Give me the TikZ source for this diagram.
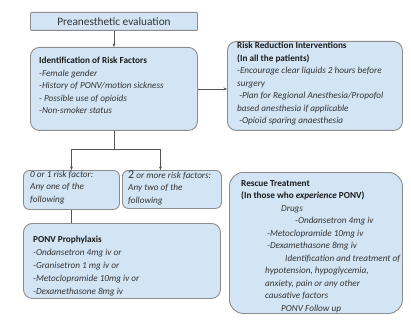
\documentclass[tikz,border=0pt]{standalone}
\usepackage{fontspec}
\setmainfont{Carlito}
\usetikzlibrary{arrows.meta}
\definecolor{boxfill}{HTML}{D3E5F5}
\definecolor{boxline}{HTML}{8C8C8C}
\definecolor{txtcol}{HTML}{333333}
\definecolor{headcol}{HTML}{1A1A1A}
\definecolor{linecol}{HTML}{555555}
\begin{document}
\begin{tikzpicture}[x=1pt,y=-1pt,
  box/.style={draw=boxline, fill=boxfill, line width=0.9pt, rounded corners=9pt, inner sep=0pt, anchor=north west},
  txt/.style={anchor=north west, align=left, inner sep=0pt, font=\fontsize{9.2}{12.5}\selectfont\itshape, text=txtcol},
  arr/.style={-{Stealth[length=3.5pt,width=3pt]}, draw=linecol, line width=0.7pt},
  ln/.style={draw=linecol, line width=0.7pt}]
\useasboundingbox (0,0) rectangle (411,320);
\newcommand{\hdtext}[1]{{\upshape\bfseries\color{headcol}#1}}
% boxes
\node[box, rounded corners=1pt, minimum width=167pt, minimum height=18pt,
      font=\fontsize{11.3}{13}\selectfont, text=txtcol] (pre) at (30,12) {Preanesthetic evaluation};
\node[box, minimum width=167pt, minimum height=83pt] (risk) at (30,47) {};
\node[box, minimum width=175pt, minimum height=89pt] (red) at (227,41) {};
\node[box, rounded corners=6pt, minimum width=96pt, minimum height=39pt] (b1) at (23,170) {};
\node[box, rounded corners=6pt, minimum width=99pt, minimum height=38pt] (b2) at (122,170) {};
\node[box, minimum width=197pt, minimum height=75pt] (ponv) at (23,223) {};
\node[box, rounded corners=14pt, minimum width=173pt, minimum height=141pt] (resc) at (229,172) {};
% texts
\node[txt] (risktxt) at (39,57) {\hdtext{Identification of Risk Factors}\\
  -Female gender\\ -History of PONV/motion sickness\\ - Possible use of opioids\\ -Non-smoker status};
\node[txt] (redtxt) at (237,42) {\hdtext{Risk Reduction Interventions}\\
  \hdtext{(In all the patients)}\\
  -Encourage clear liquids 2 hours before\\ surgery\\
  \ -Plan for Regional Anesthesia/Propofol\\ based anesthesia if applicable\\
  \ -Opioid sparing anaesthesia};
\node[txt] (b1txt) at (30,170.5) {0 or 1 risk factor:\\ Any one of the\\ following};
\node[txt] (b2txt) at (128,170.5) {{\upshape\fontsize{12}{12.5}\selectfont 2} or more risk factors:\\ Any two of the\\ following};
\node[txt, font=\fontsize{9.2}{12.9}\selectfont\itshape] (ponvtxt) at (33,236) {\hdtext{PONV Prophylaxis}\\
  -Ondansetron 4mg iv or\\ -Granisetron 1 mg iv or\\ -Metoclopramide 10mg iv or\\ -Dexamethasone 8mg iv};
\node[txt] (resctxt) at (241,180) {\hdtext{Rescue Treatment}\\
  \hdtext{(In those who \textit{experience} PONV)}\\
  \hspace*{40pt}Drugs\\
  \hspace*{54pt}-Ondansetron 4mg iv\\
  \hspace*{26pt}-Metoclopramide 10mg iv\\
  \hspace*{26pt}-Dexamethasone 8mg iv\\
  \hspace*{44pt}Identification and treatment of\\
  \hspace*{24pt}hypotension, hypoglycemia,\\
  \hspace*{24pt}anxiety, pain or any other\\
  \hspace*{24pt}causative factors\\
  \hspace*{40pt}PONV Follow up};
% connectors
\draw[arr] (pre.south) -- (risk.north);
\draw[arr] (risk.east) -- (risk.east -| red.west);
\draw[arr] (risk.south) -- ++(0,18) -| (b1.north);
\draw[arr] (risk.south) ++(0,18) -| ([xshift=-11.5pt]b2.north);
\draw[ln] (b1.south) -- (b1.south |- ponv.north);
\end{tikzpicture}
\end{document}
